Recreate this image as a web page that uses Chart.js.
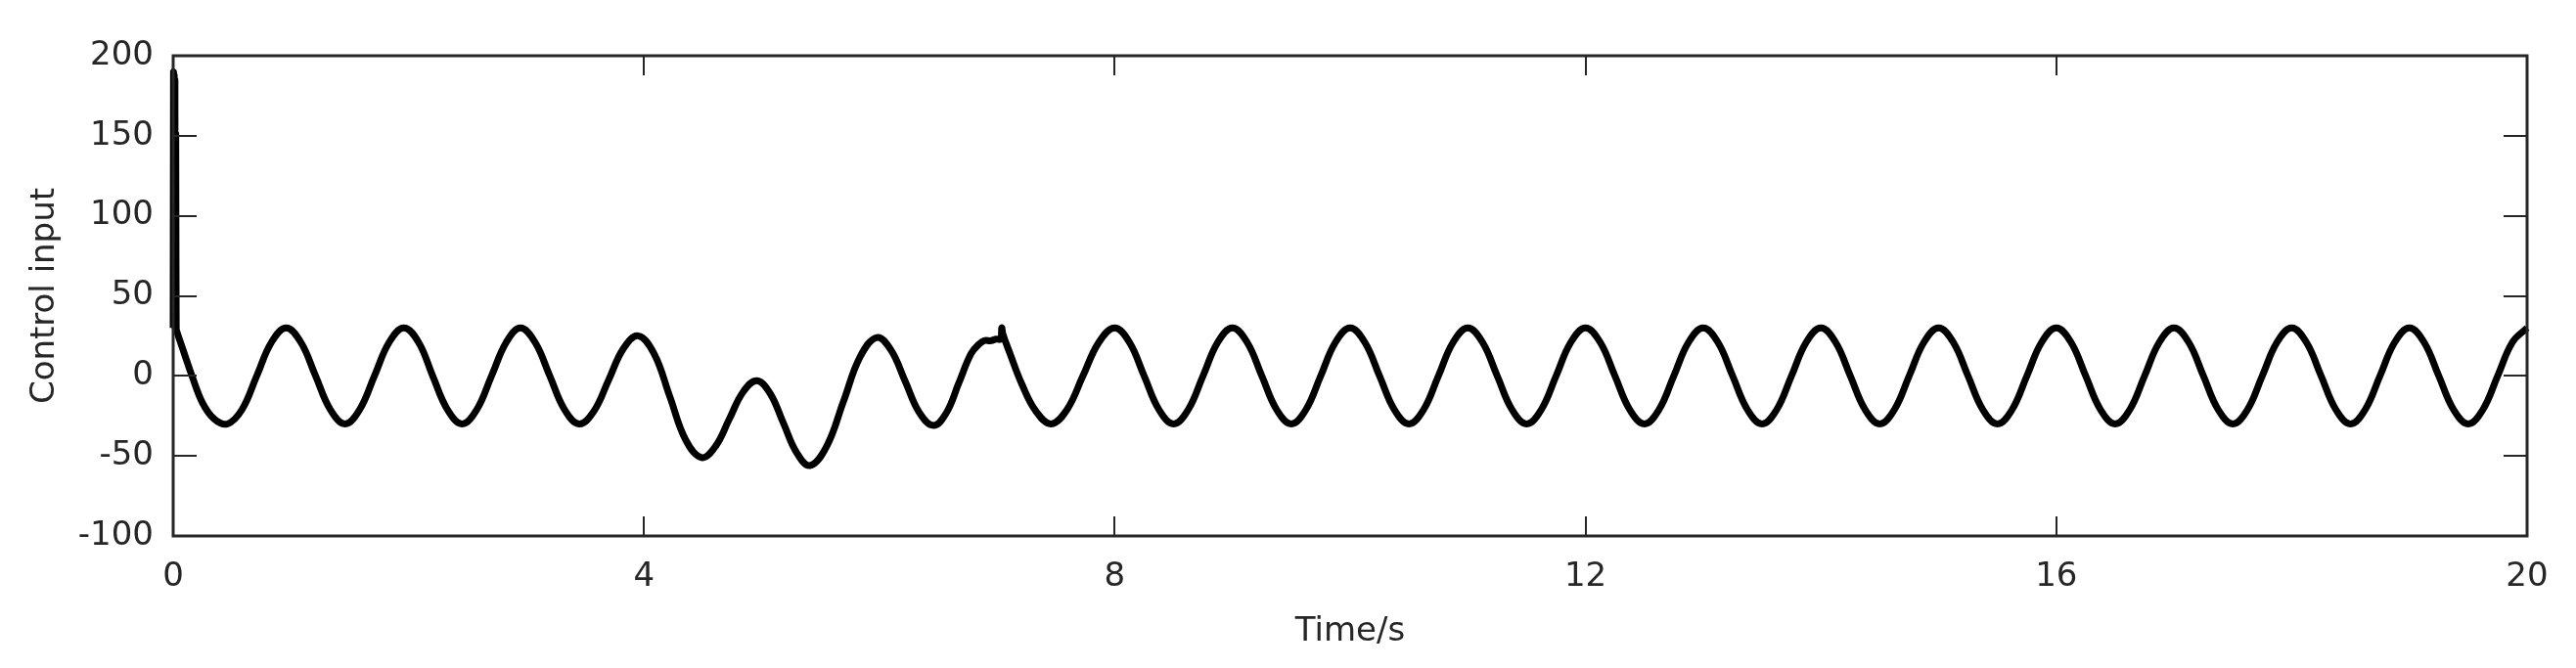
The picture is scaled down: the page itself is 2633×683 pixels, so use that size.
<!DOCTYPE html>
<html>
<head>
<meta charset="utf-8">
<script src="https://cdn.jsdelivr.net/npm/chart.js@4/dist/chart.umd.min.js"></script>
<style>
  html, body { margin: 0; padding: 0; background: #ffffff; }
  #wrap { width: 2633px; height: 683px; }
</style>
</head>
<body>
<div id="wrap"><canvas id="c" width="2633" height="683"></canvas></div>
<script>
// ---- data ----
const xTickValues = [0, 4, 8, 12, 16, 20];
const yTickValues = [-100, -50, 0, 50, 100, 150, 200];
const xAxisTitle = 'Time/s';
const yAxisTitle = 'Control input';

const timeS = [
  0, 0.003, 0.006, 0.009, 0.012, 0.015, 0.018, 0.022, 0.026, 0.03, 0.09, 0.16, 0.25, 0.35, 0.46,
  0.585, 0.71, 0.835, 0.96, 1.085, 1.21, 1.335, 1.46,
  1.585, 1.71, 1.835, 1.96, 2.085, 2.205, 2.33, 2.455,
  2.58, 2.705, 2.83, 2.95, 3.075, 3.2, 3.325, 3.45,
  3.575, 3.70, 3.825, 3.95, 4.085, 4.22, 4.355, 4.49,
  4.6075, 4.725, 4.8425, 4.96, 5.0725, 5.185, 5.2975, 5.41,
  5.5525, 5.695, 5.8375, 5.98, 6.10, 6.22, 6.34, 6.46,
  6.57, 6.675, 6.78, 6.85, 6.89, 6.95, 6.99, 7.03, 7.04, 7.05, 7.11, 7.21, 7.33, 7.46,
  7.595, 7.73, 7.865, 8.0,
  8.125, 8.25, 8.375, 8.5, 8.625, 8.75, 8.875, 9.0,
  9.125, 9.25, 9.375, 9.5, 9.625, 9.75, 9.875, 10.0,
  10.125, 10.25, 10.375, 10.5, 10.625, 10.75, 10.875, 11.0,
  11.125, 11.25, 11.375, 11.5, 11.625, 11.75, 11.875, 12.0,
  12.125, 12.25, 12.375, 12.5, 12.625, 12.75, 12.875, 13.0,
  13.125, 13.25, 13.375, 13.5, 13.625, 13.75, 13.875, 14.0,
  14.125, 14.25, 14.375, 14.5, 14.625, 14.75, 14.875, 15.0,
  15.125, 15.25, 15.375, 15.5, 15.625, 15.75, 15.875, 16.0,
  16.125, 16.25, 16.375, 16.5, 16.625, 16.75, 16.875, 17.0,
  17.125, 17.25, 17.375, 17.5, 17.625, 17.75, 17.875, 18.0,
  18.125, 18.25, 18.375, 18.5, 18.625, 18.75, 18.875, 19.0,
  19.125, 19.25, 19.375, 19.5, 19.625, 19.75, 19.875, 20.0
];

const controlInput = [
  30, 190, 32, 188, 35, 185, 30, 150, 30, 28, 15, 0, -17, -27, -30,
  -21, 0, 21, 30, 21, 0, -21, -30,
  -21, 0, 21, 30, 21, 0, -21, -30,
  -21, 0, 21, 30, 21, 0, -21, -30,
  -22, -2.5, 17, 25, 14, -13, -40, -51,
  -44, -27, -10, -3, -11, -29.5, -48, -56,
  -44, -16, 12, 24, 16, -3.5, -23, -31,
  -23, -4.5, 14, 20, 22, 22, 23, 23, 30, 26, 14, -5, -22, -30,
  -21, 0, 21, 30,
  21, 0, -21, -30, -21, 0, 21, 30,
  21, 0, -21, -30, -21, 0, 21, 30,
  21, 0, -21, -30, -21, 0, 21, 30,
  21, 0, -21, -30, -21, 0, 21, 30,
  21, 0, -21, -30, -21, 0, 21, 30,
  21, 0, -21, -30, -21, 0, 21, 30,
  21, 0, -21, -30, -21, 0, 21, 30,
  21, 0, -21, -30, -21, 0, 21, 30,
  21, 0, -21, -30, -21, 0, 21, 30,
  21, 0, -21, -30, -21, 0, 21, 30,
  21, 0, -21, -30, -21, 0, 21, 30,
  21, 0, -21, -30, -21, 0, 21, 30
];

// ---- chart ----
const FONT = 'DejaVu Sans';
const AXIS_COLOR = '#262626';

const boxAndTicks = {
  id: 'boxAndTicks',
  afterDatasetsDraw(chart) {
    const { ctx, chartArea, scales } = chart;
    const { left, right, top, bottom } = chartArea;
    const xs = scales.x, ys = scales.y;
    ctx.save();
    ctx.strokeStyle = AXIS_COLOR;
    ctx.lineWidth = 2;
    ctx.beginPath();
    xs.ticks.forEach(t => {
      const px = Math.round(xs.getPixelForValue(t.value));
      ctx.moveTo(px, bottom); ctx.lineTo(px, bottom - 20);
      ctx.moveTo(px, top); ctx.lineTo(px, top + 20);
    });
    ys.ticks.forEach(t => {
      const py = Math.round(ys.getPixelForValue(t.value));
      ctx.moveTo(left, py); ctx.lineTo(left + 24, py);
      ctx.moveTo(right, py); ctx.lineTo(right - 24, py);
    });
    ctx.stroke();
    ctx.lineWidth = 3;
    ctx.strokeRect(left, top, right - left, bottom - top);
    ctx.restore();
  }
};

new Chart(document.getElementById('c'), {
  type: 'line',
  data: {
    datasets: [{
      data: timeS.map((t, i) => ({ x: t, y: controlInput[i] })),
      borderColor: '#000000',
      borderWidth: 7,
      pointRadius: 0,
      fill: false,
      tension: 0.4,
      clip: 12
    }]
  },
  options: {
    responsive: false,
    animation: false,
    devicePixelRatio: 1,
    layout: { padding: { top: 57, right: 50, bottom: 0, left: 0 } },
    plugins: { legend: { display: false }, tooltip: { enabled: false } },
    scales: {
      x: {
        type: 'linear',
        min: 0, max: 20,
        afterBuildTicks: s => { s.ticks = xTickValues.map(v => ({ value: v })); },
        afterFit: s => { s.height = 135; },
        grid: { display: false, drawTicks: false },
        border: { display: false },
        ticks: {
          color: AXIS_COLOR, padding: 22, maxRotation: 0,
          font: { family: FONT, size: 34 },
          callback: v => String(v)
        },
        title: {
          display: true, text: xAxisTitle, color: AXIS_COLOR,
          font: { family: FONT, size: 34 },
          padding: { top: 0, bottom: 16 }
        }
      },
      y: {
        type: 'linear',
        min: -100, max: 200,
        afterBuildTicks: s => { s.ticks = yTickValues.map(v => ({ value: v })); },
        afterFit: s => { s.width = 177; },
        grid: { display: false, drawTicks: false },
        border: { display: false },
        ticks: {
          color: AXIS_COLOR, padding: 20,
          font: { family: FONT, size: 34 },
          callback: v => String(v)
        },
        title: {
          display: true, text: yAxisTitle, color: AXIS_COLOR,
          font: { family: FONT, size: 34 },
          padding: { top: 26, bottom: 0 }
        }
      }
    }
  },
  plugins: [boxAndTicks]
});
</script>
</body>
</html>
